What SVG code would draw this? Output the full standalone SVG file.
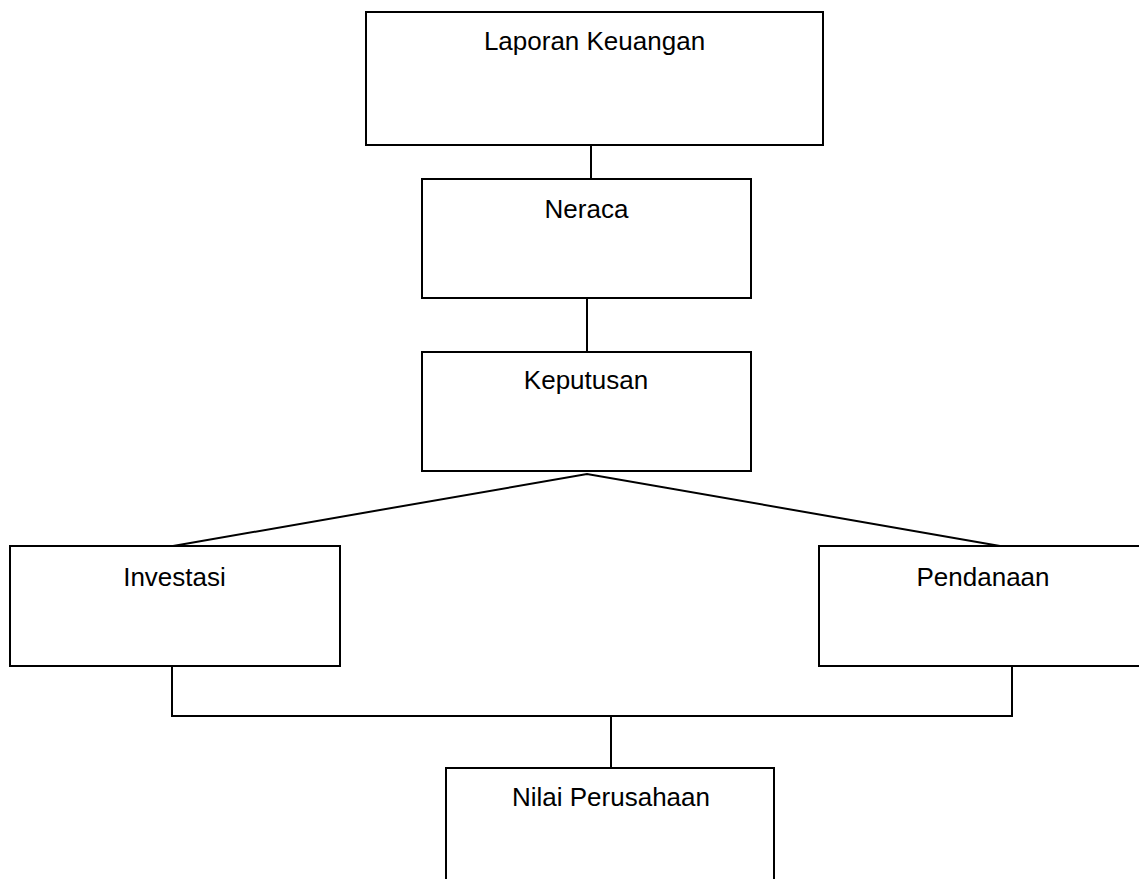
<svg xmlns="http://www.w3.org/2000/svg" width="1139" height="879" viewBox="0 0 1139 879">
<style>
.box{fill:#fff;stroke:#000;stroke-width:2}
.lbl{font-family:"Liberation Sans",Arial,sans-serif;font-size:26px;fill:#000;text-anchor:middle}
.con{fill:none;stroke:#000;stroke-width:2}
</style>
<rect width="1139" height="879" fill="#fff"/>
<g id="connectors">
<line class="con" x1="591" y1="145" x2="591" y2="179"/>
<line class="con" x1="587" y1="298" x2="587" y2="352"/>
<polyline class="con" points="173,546 587,474 1000,546"/>
<polyline class="con" points="172,666 172,716 1012,716 1012,666"/>
<line class="con" x1="611" y1="716" x2="611" y2="768"/>
</g>
<g id="laporan">
<rect class="box" x="366" y="12" width="457" height="133"/>
<text class="lbl" x="594.5" y="50">Laporan Keuangan</text>
</g>
<g id="neraca">
<rect class="box" x="422" y="179" width="329" height="119"/>
<text class="lbl" x="586.5" y="218">Neraca</text>
</g>
<g id="keputusan">
<rect class="box" x="422" y="352" width="329" height="119"/>
<text class="lbl" x="586" y="389">Keputusan</text>
</g>
<g id="investasi">
<rect class="box" x="10" y="546" width="330" height="120"/>
<text class="lbl" x="174.5" y="586">Investasi</text>
</g>
<g id="pendanaan">
<rect class="box" x="819" y="546" width="330" height="120"/>
<text class="lbl" x="983" y="586">Pendanaan</text>
</g>
<g id="nilai">
<rect class="box" x="446" y="768" width="328" height="130"/>
<text class="lbl" x="611" y="806">Nilai Perusahaan</text>
</g>
</svg>
